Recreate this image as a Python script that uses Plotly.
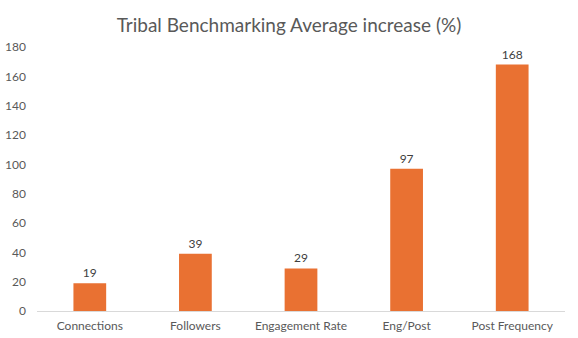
import plotly.graph_objects as go

categories = ["Connections", "Followers", "Engagement Rate", "Eng/Post", "Post Frequency"]
increase_pct = [19, 39, 29, 97, 168]
y_ticks = [0, 20, 40, 60, 80, 100, 120, 140, 160, 180]

fig = go.Figure(
    go.Bar(
        x=categories,
        y=increase_pct,
        marker=dict(color="#E97132", line=dict(width=0)),
        width=0.31,
        text=[str(v) for v in increase_pct],
        textposition="outside",
        textfont=dict(family="Lato", size=12, color="#404040"),
        cliponaxis=False,
    )
)

fig.update_layout(
    width=578,
    height=338,
    margin=dict(l=37, r=13, t=47, b=27),
    paper_bgcolor="white",
    plot_bgcolor="white",
    showlegend=False,
    title=dict(
        text="Tribal Benchmarking Average increase (%)",
        x=0.5,
        xanchor="center",
        y=1 - 25 / 338,
        yanchor="middle",
        font=dict(family="Lato", size=19, color="#595959"),
    ),
    xaxis=dict(
        automargin=False,
        showgrid=False,
        showline=True,
        linecolor="#D9D9D9",
        linewidth=1,
        ticks="",
        ticklabelstandoff=4,
        tickfont=dict(family="Lato", size=12, color="#595959"),
    ),
    yaxis=dict(
        automargin=False,
        range=[0, 180],
        tickvals=y_ticks,
        showgrid=False,
        zeroline=False,
        showline=False,
        ticks="",
        ticklabelstandoff=10,
        tickfont=dict(family="Lato", size=12, color="#595959"),
    ),
)

fig.write_html("out.html")
